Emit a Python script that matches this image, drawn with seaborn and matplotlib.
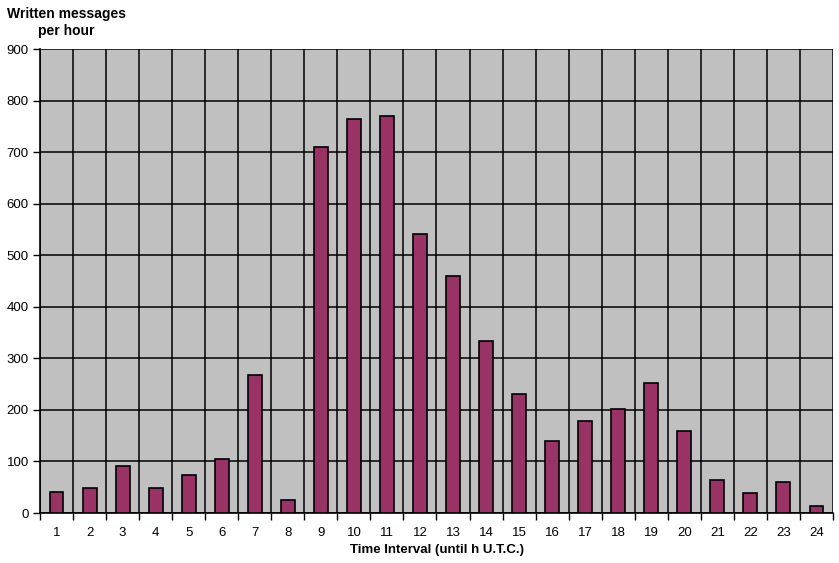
import numpy as np
import pandas as pd
import matplotlib
matplotlib.use("Agg")
import matplotlib.pyplot as plt
import seaborn as sns

# messages per hour interval
hours = [str(h) for h in range(1, 25)]
messages = [40, 48, 91, 48, 74, 105, 268, 25, 710, 764, 770, 541,
            460, 334, 231, 140, 178, 202, 252, 159, 64, 39, 60, 14]
yticks = list(range(0, 1000, 100))

df = pd.DataFrame({"hour": hours, "messages": messages})

sns.set_style("white")
plt.rcParams["font.family"] = ["Liberation Sans", "DejaVu Sans"]
plt.rcParams["text.color"] = "black"
plt.rcParams["axes.labelcolor"] = "black"
plt.rcParams["xtick.color"] = "black"
plt.rcParams["ytick.color"] = "black"

fig = plt.figure(figsize=(8.39, 5.63), dpi=100)
ax = fig.add_axes([40 / 839, 50 / 563, 793 / 839, 464 / 563])
ax.set_facecolor("#c0c0c0")

sns.barplot(data=df, x="hour", y="messages", color="#993366", width=0.42,
            edgecolor="black", linewidth=1.2, saturation=1, ax=ax, zorder=3)

ax.set_xlim(-0.5, len(hours) - 0.5)
ax.set_ylim(0, 900)
ax.set_yticks(yticks)
ax.set_xticks(np.arange(-0.5, len(hours), 1), minor=True)

# excel-like black grid: horizontal at major y ticks, vertical between categories
ax.grid(axis="y", which="major", color="black", linewidth=1.1, zorder=0)
ax.grid(axis="x", which="minor", color="black", linewidth=1.1, zorder=0)
ax.grid(axis="x", which="major", visible=False)
ax.set_axisbelow(True)

for side in ["top", "right"]:
    ax.spines[side].set_visible(False)
for side in ["left", "bottom"]:
    ax.spines[side].set_color("black")
    ax.spines[side].set_linewidth(1.2)

ax.tick_params(axis="y", which="major", direction="out", length=5, width=1,
               color="black", labelcolor="black", labelsize=9.5, pad=3, left=True)
ax.tick_params(axis="x", which="major", length=0, labelsize=9.5,
               labelcolor="black", pad=10)
ax.tick_params(axis="x", which="minor", direction="out", length=5, width=1,
               color="black", bottom=True)

ax.set_xlabel("Time Interval (until h U.T.C.)", fontsize=9.5,
              fontweight="bold", labelpad=4, color="black")
ax.set_ylabel("")

fig.text(7 / 839, 1 - 14 / 563, "Written messages", fontsize=10,
         fontweight="bold", va="center", ha="left", color="black")
fig.text(38 / 839, 1 - 31 / 563, "per hour", fontsize=10,
         fontweight="bold", va="center", ha="left", color="black")

fig.savefig("out.png", dpi=100)
